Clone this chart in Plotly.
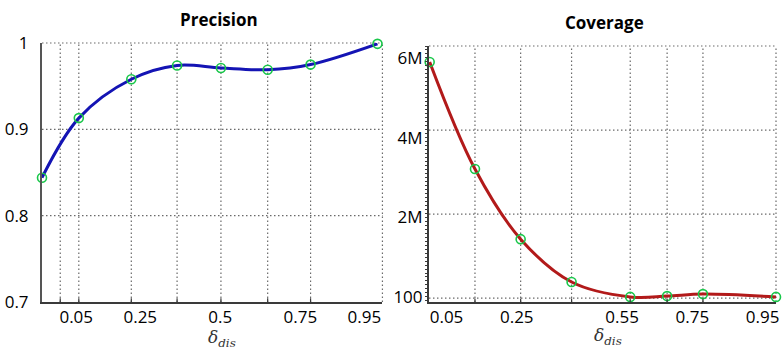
import plotly.graph_objects as go

# Precision as a function of delta_dis
prec_delta = [-0.057, 0.058, 0.222, 0.365, 0.502, 0.648, 0.782, 0.991]
prec_value = [0.844, 0.913, 0.958, 0.974, 0.971, 0.969, 0.975, 0.999]

# Coverage as a function of delta_dis
cov_delta = [0.002, 0.131, 0.261, 0.406, 0.573, 0.678, 0.780, 0.988]
cov_value = [5.90e6, 3.21e6, 1.45e6, 0.374e6, 100, 20000, 70000, 100]

# Tick labels
prec_xtick_vals = [0.05, 0.25, 0.5, 0.75, 0.95]
prec_xtick_text = ["0.05", "0.25", "0.5", "0.75", "0.95"]
cov_xtick_vals = [0.05, 0.25, 0.55, 0.75, 0.95]
cov_xtick_text = ["0.05", "0.25", "0.55", "0.75", "0.95"]
prec_ytick_vals = [0.7, 0.8, 0.9, 1.0]
prec_ytick_text = ["0.7", "0.8", "0.9", "1"]
cov_ytick_vals = [100, 2e6, 4e6, 6e6]
cov_ytick_text = ["100", "2M", "4M", "6M"]

# Dotted grid positions
prec_grid_x = [0.0, 0.058, 0.222, 0.365, 0.502, 0.648, 0.782]
prec_grid_y = [0.8, 0.9]
cov_grid_x = cov_delta[1:-1]
cov_grid_y = [-0.03e6, 2.08e6, 4.19e6]

FONT = "Open Sans"
GRID = dict(color="#6a6a6a", width=1.2, dash="1.5px,2.5px")
AXIS_COLOR = "#3a3a3a"
MARKER = dict(symbol="circle-open", size=9, color="#19c74a", line=dict(width=1.6, color="#19c74a"))

fig = go.Figure()
fig.add_trace(go.Scatter(
    x=prec_delta, y=prec_value, mode="lines+markers", cliponaxis=False,
    line=dict(color="#1414b4", width=3, shape="spline", smoothing=1.0),
    marker=MARKER, xaxis="x", yaxis="y", showlegend=False))
fig.add_trace(go.Scatter(
    x=cov_delta, y=cov_value, mode="lines+markers", cliponaxis=False,
    line=dict(color="#b21a1a", width=3, shape="spline", smoothing=1.0),
    marker=MARKER, xaxis="x2", yaxis="y2", showlegend=False))

shapes = []


def vgrid(xs, xref, yref):
    for v in xs:
        shapes.append(dict(type="line", xref=xref, yref=yref + " domain", x0=v, x1=v, y0=0, y1=1,
                           line=GRID, layer="below"))
        shapes.append(dict(type="line", xref=xref, yref=yref + " domain", x0=v, x1=v, y0=0, y1=0.014,
                           line=dict(color=AXIS_COLOR, width=1.2), layer="above"))


def hgrid(ys, xref, yref):
    for v in ys:
        shapes.append(dict(type="line", xref=xref + " domain", yref=yref, x0=0, x1=1, y0=v, y1=v,
                           line=GRID, layer="below"))


def border(xref, yref):
    shapes.append(dict(type="line", xref=xref + " domain", yref=yref + " domain",
                       x0=0, x1=1, y0=1, y1=1, line=GRID, layer="below"))
    shapes.append(dict(type="line", xref=xref + " domain", yref=yref + " domain",
                       x0=1, x1=1, y0=0, y1=1, line=GRID, layer="below"))


vgrid(prec_grid_x, "x", "y")
hgrid(prec_grid_y, "x", "y")
border("x", "y")
vgrid(cov_grid_x, "x2", "y2")
hgrid(cov_grid_y, "x2", "y2")
border("x2", "y2")

tickfont = dict(family=FONT, size=17, color="#000")

annotations = [
    dict(text="<b>Precision</b>", xref="x domain", yref="paper", x=0.52, y=1.089,
         showarrow=False, font=dict(family=FONT, size=17, color="#000"), xanchor="center", yanchor="middle"),
    dict(text="<b>Coverage</b>", xref="x2 domain", yref="paper", x=0.506, y=1.079,
         showarrow=False, font=dict(family=FONT, size=17, color="#000"), xanchor="center", yanchor="middle"),
    dict(text="<i>δ<sub>dis</sub></i>", xref="x domain", yref="paper", x=0.529, y=-0.139,
         showarrow=False, font=dict(family="DejaVu Serif", size=17, color="#333"),
         xanchor="center", yanchor="middle"),
    dict(text="<i>δ<sub>dis</sub></i>", xref="x2 domain", yref="paper", x=0.515, y=-0.135,
         showarrow=False, font=dict(family="DejaVu Serif", size=17, color="#333"),
         xanchor="center", yanchor="middle"),
]

fig.update_layout(
    width=782, height=349,
    margin=dict(l=42, r=3, t=43, b=47),
    paper_bgcolor="white", plot_bgcolor="white",
    font=dict(family=FONT),
    shapes=shapes, annotations=annotations,
    xaxis=dict(domain=[0, 0.4638], range=[-0.057, 1.0065], anchor="y",
               tickmode="array", tickvals=prec_xtick_vals, ticktext=prec_xtick_text,
               showgrid=False, zeroline=False, ticks="", showline=True,
               linecolor=AXIS_COLOR, linewidth=2, tickfont=tickfont, ticklabelstandoff=-1,
               ticklabeloverflow="allow"),
    yaxis=dict(domain=[0, 1], range=[0.7, 1.0], anchor="x",
               tickmode="array", tickvals=prec_ytick_vals, ticktext=prec_ytick_text,
               showgrid=False, zeroline=False, ticks="", showline=True,
               linecolor="#555", linewidth=2, tickfont=tickfont, ticklabelstandoff=8,
               ticklabeloverflow="allow"),
    xaxis2=dict(domain=[0.5272, 1], range=[0.0, 0.988], anchor="y2",
                tickmode="array", tickvals=cov_xtick_vals, ticktext=cov_xtick_text,
                showgrid=False, zeroline=False, ticks="", showline=True,
                linecolor=AXIS_COLOR, linewidth=2, tickfont=tickfont, ticklabelstandoff=-1,
                ticklabeloverflow="allow"),
    yaxis2=dict(domain=[0, 0.9884], range=[-0.128e6, 6.30e6], anchor="x2",
                tickmode="array", tickvals=cov_ytick_vals, ticktext=cov_ytick_text,
                showgrid=False, zeroline=False, ticks="", showline=True,
                linecolor=AXIS_COLOR, linewidth=2, tickfont=tickfont, ticklabelstandoff=1,
                ticklabeloverflow="allow",
                minor=dict(ticks="outside", ticklen=2, tickcolor=AXIS_COLOR, tickwidth=1,
                           tickmode="linear", tick0=0, dtick=100000, showgrid=False)),
)

fig.write_html("out.html")
